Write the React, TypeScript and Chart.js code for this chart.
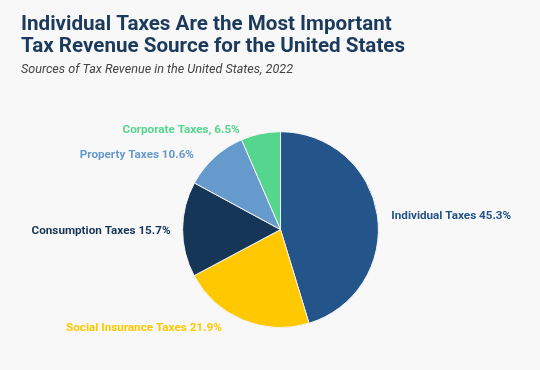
import React, { useEffect, useRef } from "react";
import { Chart, registerables } from "chart.js";

Chart.register(...registerables);

const categories = [
  "Individual Taxes",
  "Social Insurance Taxes",
  "Consumption Taxes",
  "Property Taxes",
  "Corporate Taxes",
];
const shares = [45.3, 21.9, 15.7, 10.6, 6.5];
const labelTexts = [
  "Individual Taxes 45.3%",
  "Social Insurance Taxes 21.9%",
  "Consumption Taxes 15.7%",
  "Property Taxes 10.6%",
  "Corporate Taxes, 6.5%",
];
const sliceColors = ["#23548a", "#ffc800", "#163658", "#6699cc", "#55d58e"];

const titleLines = [
  "Individual Taxes Are the Most Important",
  "Tax Revenue Source for the United States",
];
const subtitleText = "Sources of Tax Revenue in the United States, 2022";

const BG = "#f8f8f8";

const bgPlugin = {
  id: "bgFill",
  beforeDraw(chart: any) {
    const { ctx, width, height } = chart;
    ctx.save();
    ctx.fillStyle = BG;
    ctx.fillRect(0, 0, width, height);
    ctx.restore();
  },
};

const outerLabels = {
  id: "outerLabels",
  afterDatasetsDraw(chart: any) {
    const { ctx } = chart;
    const meta = chart.getDatasetMeta(0);
    ctx.save();
    ctx.font = "bold 11.7px Roboto";
    ctx.textBaseline = "middle";
    meta.data.forEach((arc: any, i: number) => {
      const { x, y, startAngle, endAngle, outerRadius } = arc.getProps(
        ["x", "y", "startAngle", "endAngle", "outerRadius"],
        true
      );
      const mid = (startAngle + endAngle) / 2;
      const r = outerRadius + 6;
      const ax = x + Math.cos(mid) * r;
      const ay = y + Math.sin(mid) * r + 2;
      const right = Math.cos(mid) >= 0;
      const pad = 6 + 14 * Math.abs(Math.sin(mid));
      ctx.textAlign = right ? "left" : "right";
      ctx.fillStyle = sliceColors[i];
      ctx.fillText(labelTexts[i], ax + (right ? pad : -pad), ay);
    });
    ctx.restore();
  },
};

export default function App() {
  const ref = useRef<HTMLCanvasElement | null>(null);
  useEffect(() => {
    if (!ref.current) return;
    const chart = new Chart(ref.current, {
      type: "pie",
      data: {
        labels: categories,
        datasets: [
          {
            data: shares,
            backgroundColor: sliceColors,
            borderColor: "#f4f4f4",
            borderWidth: 1,
          },
        ],
      },
      options: {
        animation: false,
        responsive: false,
        layout: { padding: { left: 21, right: 0, top: 0, bottom: 42 } },
        plugins: {
          legend: { display: false },
          tooltip: { enabled: false },
          title: {
            display: true,
            text: titleLines,
            align: "start",
            color: "#1b3a5c",
            font: { family: "Roboto", size: 20.6, weight: "bold", lineHeight: 1.07 },
            padding: { top: 14, bottom: 4 },
          },
          subtitle: {
            display: true,
            text: subtitleText,
            align: "start",
            color: "#444444",
            font: { family: "Roboto", size: 12.6, style: "italic", lineHeight: 1.2 },
            padding: { top: 0, bottom: 54 },
          },
        },
      },
      plugins: [bgPlugin, outerLabels],
    });
    return () => chart.destroy();
  }, []);
  return (
    <div style={{ position: "fixed", left: 0, top: 0, width: 540, height: 370, background: BG }}>
      <canvas ref={ref} width={540} height={370} style={{ width: 540, height: 370 }} />
    </div>
  );
}
